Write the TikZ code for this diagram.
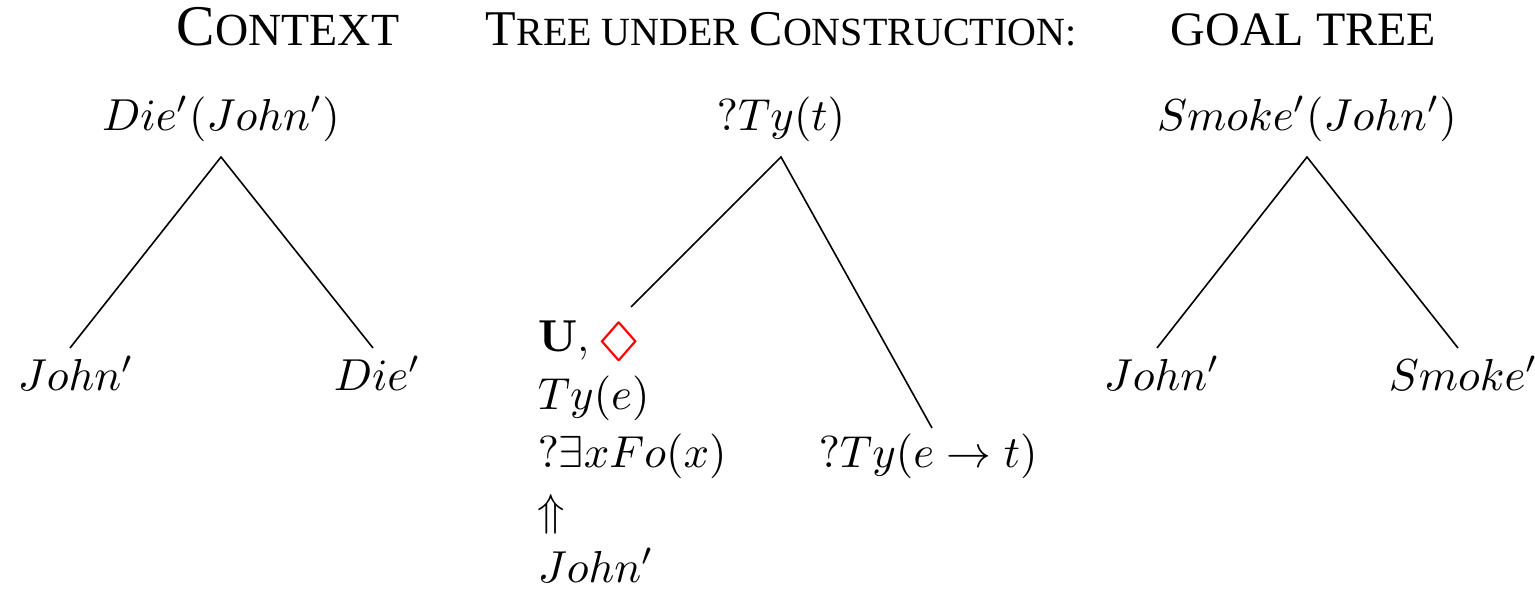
\RequirePackage{fix-cm}
\documentclass[tikz,border=0pt]{standalone}
\usepackage{amssymb}
\usepackage{graphicx}
\usepackage[no-math]{fontspec}
\newfontfamily\titlefont{Liberation Serif}
\newcommand{\bigsc}{\fontsize{14.4}{16}\selectfont}
\newcommand{\smallsc}{\fontsize{11.5}{13}\selectfont}
\newcommand{\midbig}{\fontsize{12.5}{14}\selectfont}
\newcommand{\midsmall}{\fontsize{10}{12}\selectfont}
\begin{document}
\begin{tikzpicture}[x=0.25pt,y=-0.25pt,
  mathtxt/.style={inner sep=0pt, font=\fontsize{11.2}{13}\selectfont},
  leaf/.style={mathtxt, anchor=base west},
  rootnode/.style={mathtxt, anchor=base},
  title/.style={inner sep=0pt, anchor=base west, font=\titlefont},
  edge/.style={draw=black, line width=0.4pt}]
\useasboundingbox (0,0) rectangle (1535,589);

% titles
\node[title] (t1) at (176,46) {{\bigsc C}{\smallsc ONTEXT}};
\node[title] (t2) at (485,46) {{\midbig T}{\midsmall REE UNDER }{\midbig C}{\midsmall ONSTRUCTION:}};
\node[title] (t3) at (1170,46) {\fontsize{12}{14}\selectfont GOAL TREE};

% context tree
\node[rootnode] (cr) at (221,130) {$Die'(John')$};
\node[leaf] (cl) at (17,390) {$John'$};
\node[leaf] (cd) at (333,390) {$Die'$};
\coordinate (ca) at (221,157);
\coordinate (cle) at (70,348);
\coordinate (cde) at (373,348);
\draw[edge] (cle) -- (ca) -- (cde);

% tree under construction
\node[rootnode] (mr) at (781,130) {$?Ty(t)$};
\node[leaf] (m1) at (537,352) {$\mathbf{U}$,\,{\color{red}\raisebox{-1pt}{\scalebox{1.45}[1.05]{$\Diamond$}}}};
\node[leaf] (m2) at (537,410) {$Ty(e)$};
\node[leaf] (m3) at (537,467) {$?\exists xFo(x)$};
\node[leaf] (m4) at (537,525) {$\Uparrow$};
\node[leaf] (m5) at (537,582) {$John'$};
\node[leaf] (mf) at (818,467) {$?Ty(e\rightarrow t)$};
\coordinate (ma) at (781,157);
\coordinate (m1e) at (631,307);
\coordinate (mfe) at (932,428);
\draw[edge] (m1e) -- (ma) -- (mfe);

% goal tree
\node[rootnode] (gr) at (1307,130) {$Smoke'(John')$};
\node[leaf] (gl) at (1103,390) {$John'$};
\node[leaf] (gs) at (1388,390) {$Smoke'$};
\coordinate (ga) at (1307,157);
\coordinate (gle) at (1157,348);
\coordinate (gse) at (1458,348);
\draw[edge] (gle) -- (ga) -- (gse);
\end{tikzpicture}
\end{document}
